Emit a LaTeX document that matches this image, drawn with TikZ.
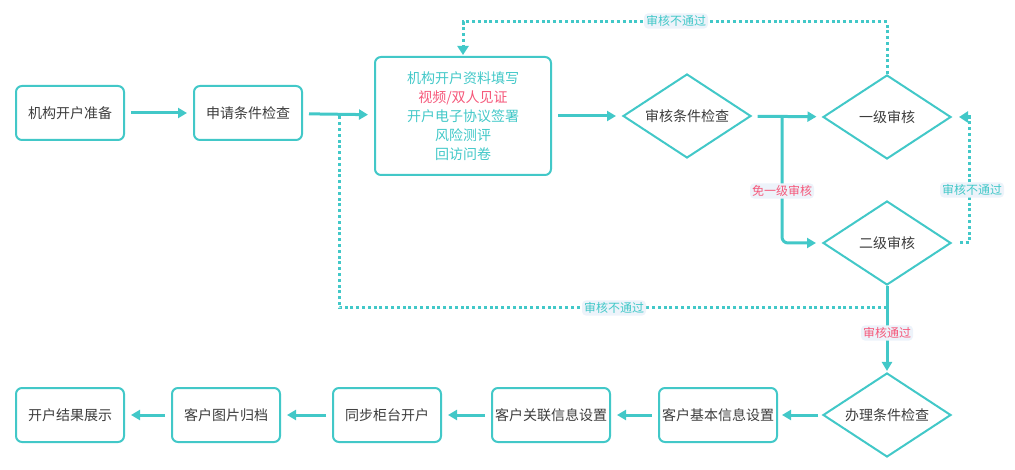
\documentclass[tikz,border=0pt]{standalone}
\usepackage{fontspec}
\setmainfont{Noto Sans CJK SC}
\usepackage{tikz}
\usetikzlibrary{shapes.geometric, arrows.meta, calc}

\definecolor{mint}{RGB}{66,200,200}
\definecolor{rose}{RGB}{245,88,122}
\definecolor{ink}{RGB}{60,60,60}
\definecolor{tagbg}{RGB}{237,243,250}

\tikzset{
  box/.style={draw=mint, line width=2pt, rounded corners=6pt, minimum width=108pt,
    minimum height=54pt, inner sep=0pt, text=ink, font=\fontsize{14pt}{17pt}\selectfont},
  dia/.style={diamond, aspect=1.52, draw=mint, line width=2pt, minimum width=128pt,
    minimum height=84pt, inner sep=0pt, text=ink, font=\fontsize{14pt}{17pt}\selectfont},
  flow/.style={draw=mint, line width=3pt, -{Triangle[length=9pt,width=10pt]},
    shorten <=6pt, shorten >=6pt},
  back/.style={draw=mint, line width=3pt, dash pattern=on 3pt off 2.8pt},
  tag/.style={fill=tagbg, rounded corners=4pt, inner sep=2pt,
    font=\fontsize{12pt}{14pt}\selectfont}
}

\begin{document}
\begin{tikzpicture}[x=1pt, y=-1pt]
      \useasboundingbox (0,0) rectangle (1015,470);

      % upper row
      \node[box] (prep) at (70,113) {机构开户准备};
      \node[box] (apply) at (248,113) {申请条件检查};
      \node[box, minimum width=176pt, minimum height=118pt, text=mint, align=center,
        font=\fontsize{14pt}{19pt}\selectfont] (fill) at (463,116)
        {机构开户资料填写\\\textcolor{rose}{视频/双人见证}\\开户电子协议签署\\风险测评\\回访问卷};
      \node[dia] (check) at (687,116) {审核条件检查};
      \node[dia] (lvlone) at (887,117) {一级审核};
      \node[dia] (lvltwo) at (887,243) {二级审核};

      % lower row
      \node[dia] (handle) at (887,415) {办理条件检查};
      \node[box, minimum width=118pt] (basic) at (718,415) {客户基本信息设置};
      \node[box, minimum width=118pt] (assoc) at (551,415) {客户关联信息设置};
      \node[box] (sync) at (387,415) {同步柜台开户};
      \node[box] (img) at (226,415) {客户图片归档};
      \node[box] (result) at (70,415) {开户结果展示};

      \draw[flow] (prep) -- (apply);
      \draw[flow] (apply) -- (fill);
      \draw[flow] (fill) -- (check);
      \draw[flow] (check) -- (lvlone);

      \coordinate (split) at (782,116);
      \draw[flow, rounded corners=6pt, shorten <=0pt] (split) |- (lvltwo.west);

      \draw[flow, shorten <=0pt, shorten >=1pt] (lvltwo.south) -- (handle.north);
      \draw[flow, shorten <=4pt, shorten >=4pt] (handle.west) -- (basic.east);
      \draw[flow] (basic) -- (assoc);
      \draw[flow] (assoc) -- (sync);
      \draw[flow] (sync) -- (img);
      \draw[flow] (img) -- (result);

      % rejected paths
      \draw[back, -{Triangle[length=9pt,width=11pt]}, shorten >=1pt]
        (lvlone.north) -- (lvlone.north |- 0,22) -| (fill.north);
      \draw[back, -{Triangle[length=9pt,width=11pt]}, shorten <=8pt, shorten >=7pt]
        (lvltwo.east) -- ++(17,0) |- (lvlone.east);
      \coordinate (pass) at (887,308);
      \coordinate (join) at (339,116);
      \draw[back] (pass) -| (join);

      \node[tag, text=mint] (tagtop) at (676,21) {审核不通过};
      \node[tag, text=mint] (tagright) at (972,190) {审核不通过};
      \node[tag, text=mint] (tagbottom) at (614,308) {审核不通过};
      \node[tag, text=rose] (tagskip) at (782,191) {免一级审核};
      \node[tag, text=rose] (tagpass) at (887,333) {审核通过};

\end{tikzpicture}
\end{document}
